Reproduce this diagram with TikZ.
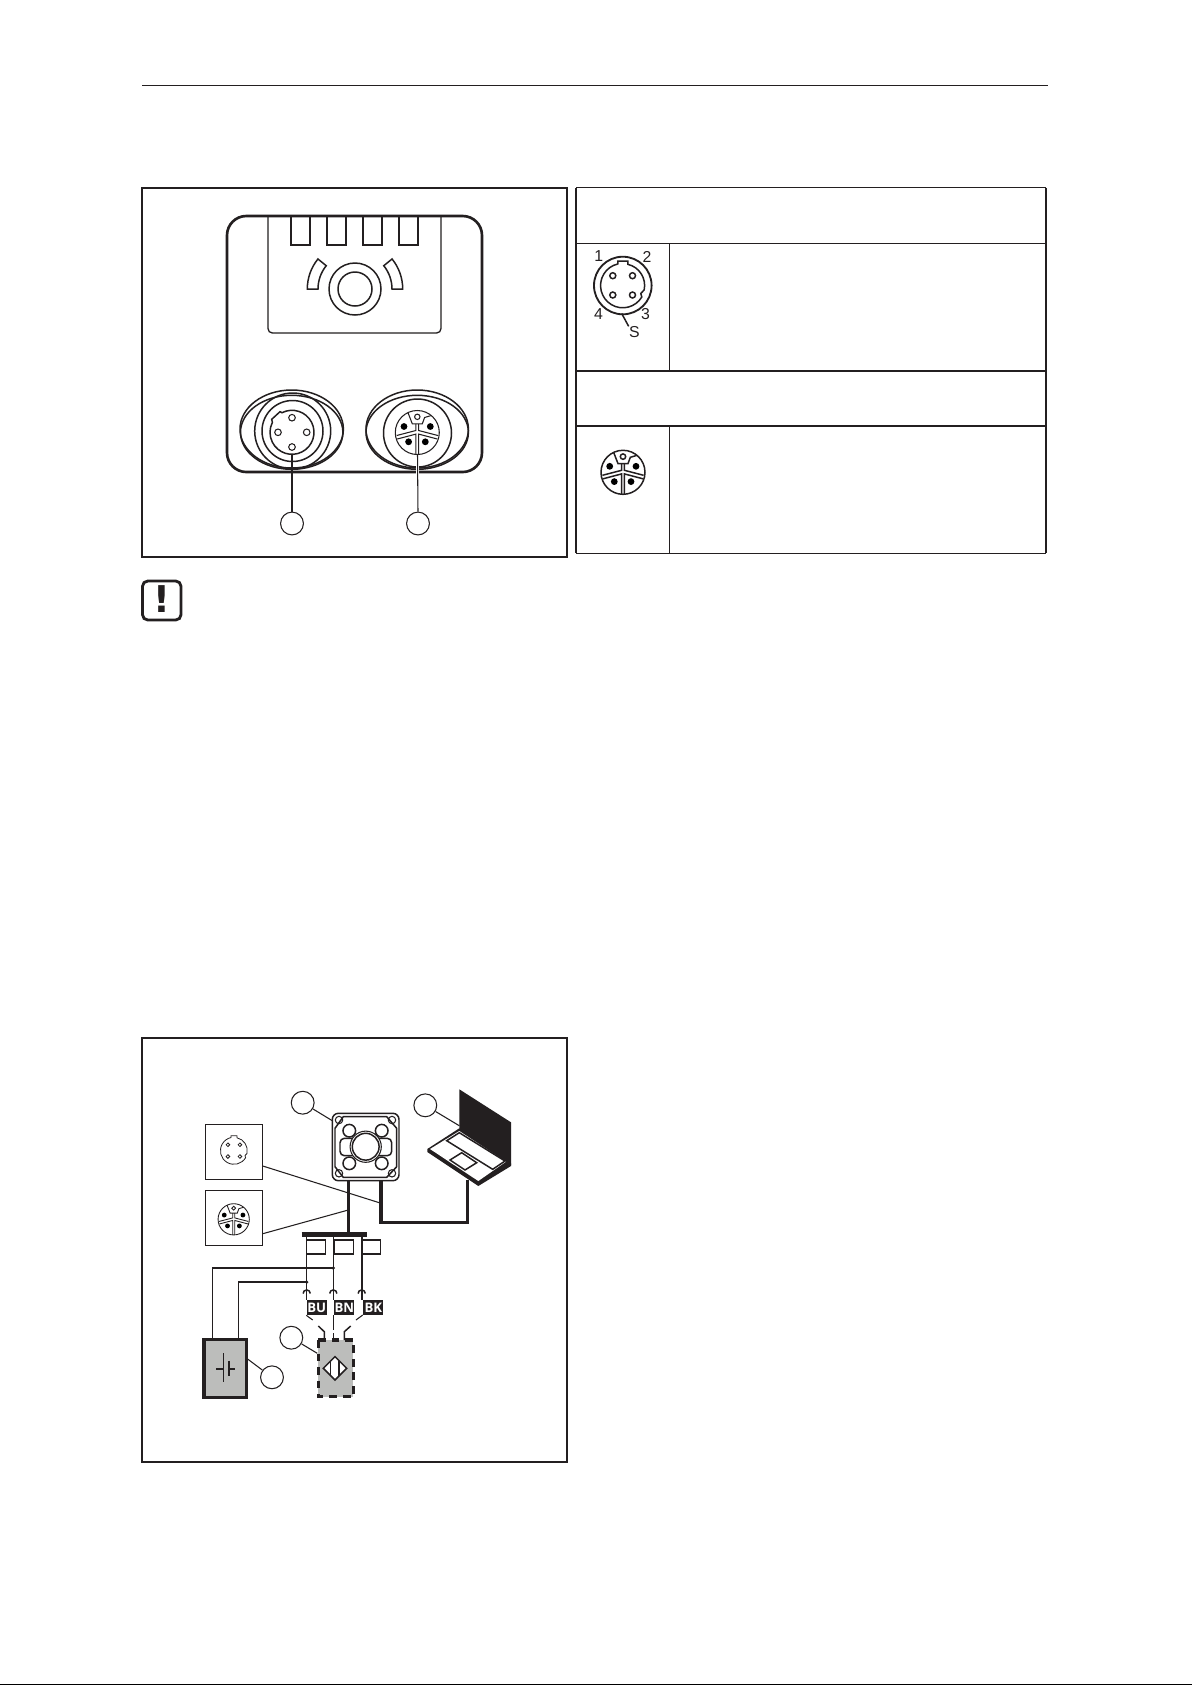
\documentclass[tikz,border=0pt]{standalone}
\usepackage{fontspec}
\setmainfont{Liberation Sans}
\newfontfamily\tagfont{Open Sans}
\newfontfamily\signfont{DejaVu Sans}
\usetikzlibrary{calc}
\definecolor{devgray}{HTML}{BCBDBB}
\definecolor{inkblack}{HTML}{231F20}
\tikzset{
    thinline/.style={line width=.6pt},
    medline/.style={line width=.85pt},
    heavyline/.style={line width=1.25pt},
    cableline/.style={line width=1.75pt},
    callout/.style={circle, draw=inkblack, thinline, minimum size=13pt, inner sep=0pt},
    wiretag/.style={fill=inkblack, text=white, font=\tagfont\bfseries\fontsize{7.5}{7.5}\selectfont, minimum width=11.4pt, minimum height=8.5pt, inner sep=0pt},
    insetbox/.style={draw=inkblack, thinline, minimum width=32.4pt, minimum height=31.3pt, inner sep=0pt},
    pinlabel/.style={font=\fontsize{9}{9}\selectfont, text=inkblack, inner sep=0pt},
    % four pole socket, notch on top
    pinfour/.pic={
        \draw (5,-21.2) arc (283:372:21.7) -- (18,8) -- (19,11.5)
            arc (391:617:22.2) -- (-5,-24.5) -- (5,-24.5) -- cycle;
        \foreach \px/\py in {-10/-9.8, 9.7/-9.8, -10/9.5, 9.7/9.5}
            \draw (\px,\py) circle (3);
    },
    % five pole socket with coding key
    pinfive/.pic={
        \draw (0,0) circle (22);
        \draw (-9.3,-19.8) -- (-5,-8.7) -- (5,-8.7) -- (7.3,-15) -- (14,-17);
        \draw (0,-15.7) circle (2.7);
        \foreach \px/\py in {-13.3/-6, 13/-6, -8.7/9.3, 8/9.3}
            \fill (\px,\py) circle (3.4);
        \draw (-1.4,-8.7) -- (-1.4,-2) -- (-20.6,3);
        \draw (1.4,-8.7) -- (1.4,-2) -- (20.6,3);
        \draw (-20,6.5) -- (-1.4,1.6) -- (-1.4,21.8);
        \draw (20,6.5) -- (1.4,1.6) -- (1.4,21.8);
    },
}

\begin{document}
\begin{tikzpicture}[x=0.02cm, y=-0.02cm, draw=inkblack]
    \useasboundingbox (0,0) rectangle (1192,1685);
    \fill[white] (0,0) rectangle (1192,1685);

    % Page rules
    \draw[medline] (142,85.5) -- (1048,85.5);
    \draw[black, medline] (0,1684.3) -- (1192,1684.3);

    % Upper frame
    \draw[heavyline] (142,188) rectangle (567,557);

    % Device housing
    \draw[line width=1.5pt, rounded corners=11pt] (227,216) rectangle (482,472);
    \draw[line width=.75pt, rounded corners=2.5pt] (268,217) -- (268,333) -- (441,333) -- (441,217);
    \foreach \tabx in {291,327,363,399}
        \draw[medline] (\tabx,217) -- (\tabx,245) -- (\tabx+19,245) -- (\tabx+19,217);
    \draw[medline] (355,289) circle (26);
    \draw[medline] (355,289) circle (17);
    \draw[medline] (355,289) ++(180:47.7) arc (180:219:47.7) -- ++(39:10.7) arc (219:180:37) -- cycle;
    \draw[medline] (355,289) ++(0:47.7) arc (360:321:47.7) -- ++(141:10.7) arc (321:360:37) -- cycle;

    % Left connector
    \draw[medline] (291.7,429) ellipse (51.7 and 39);
    \draw[medline] (291.7,432.3) ellipse (51.2 and 37);
    \draw[medline] (292.7,431) circle (38);
    \draw[medline] (292.5,431) circle (30.5);
    \draw[medline] (292,432.3) ++(243:22) arc (243:567:22) -- (271.7,419.3) -- (280,411.7) -- cycle;
    \foreach \px/\py in {292/417.7, 278/432.3, 306.7/432.3, 292/447}
        \draw[thinline] (\px,\py) circle (3.3);

    % Right connector
    \draw[medline] (417.2,429) ellipse (51.2 and 39);
    \draw[medline] (417.2,432.3) ellipse (51.2 and 37);
    \draw[medline] (417.5,433) circle (34);
    \pic[thinline] at (417.3,432.5) {pinfive};

    % Connector callouts
    \node[callout] (callA) at (292,523.5) {};
    \node[callout] (callB) at (418,523.5) {};
    \coordinate (leadA) at (292,454.5);
    \coordinate (leadB) at (417.5,454.5);
    \draw[heavyline] (callA) -- (leadA);
    \draw[white, line width=1.7pt] (417.5,460) -- (417.5,480);
    \draw[thinline] (callB.north) -- (leadB);

    % Pin table
    \draw[medline] (576,187.7) -- (1046,187.7);
    \draw[thinline] (576,243.3) -- (1046,243.3);
    \draw[medline] (576,371) -- (1046,371);
    \draw[medline] (576,426) -- (1046,426);
    \draw[thinline] (576,553.3) -- (1046,553.3);
    \draw[thinline] (576,187.7) -- (576,553.3);
    \draw[heavyline] (1046,187.7) -- (1046,553.3);
    \draw[thinline] (669.3,243.3) -- (669.3,371);
    \draw[thinline] (669.3,426) -- (669.3,553.3);

    % Table symbols
    \draw[line width=1.05pt] (622.8,285.5) circle (28.8);
    \pic[medline] at (622.8,285.5) {pinfour};
    \node[pinlabel] (lblA) at (598.7,256.5) {1};
    \node[pinlabel] (lblB) at (647,256.5) {2};
    \node[pinlabel] (lblC) at (645.5,314.5) {3};
    \node[pinlabel] (lblD) at (598.5,314.5) {4};
    \node[pinlabel] (lblS) at (634.3,332.3) {S};
    \draw[medline] (621.7,313.5) -- (lblS.north west);
    \pic[medline] at (623,472.3) {pinfive};

    % Warning sign
    \draw[line width=1.6pt, rounded corners=3pt] (142.5,581) rectangle (181,620);
    \node[font=\signfont\bfseries\fontsize{21}{21}\selectfont, inner sep=0pt, text=inkblack] (warn) at (161.5,599.5) {!};

    % Lower frame
    \draw[medline] (142,1038) rectangle (567,1462);

    % Sensor unit
    \draw[medline, rounded corners=3.5pt] (332.3,1113.3) rectangle (399,1180.7);
    \draw[medline] (343.3,1116.7) -- (386.7,1116.7) -- (396.7,1128.3) -- (396.7,1166.7) -- (386.7,1177.3)
        -- (343.3,1177.3) -- (335,1166.7) -- (335,1128.3) -- cycle;
    \foreach \px/\py in {339/1120, 392/1120, 339/1173.3, 392/1173.3}
        \draw[thinline] (\px,\py) circle (3.7);
    \foreach \px/\py in {349.3/1130.7, 381.7/1130.7, 349.3/1163.3, 381.7/1163.3}
        \draw[medline] (\px,\py) circle (6.3);
    \draw[medline, rounded corners=2.5pt, fill=white] (340,1138.3) rectangle (391.7,1155.7);
    \draw[thinline, fill=white] (365.7,1146.7) circle (15.6);
    \draw[medline] (365.7,1146.7) circle (13.4);

    % Laptop
    \fill[inkblack] (459.3,1089.3) -- (511,1122.3) -- (511,1165) -- (459.3,1130) -- cycle;
    \fill[inkblack] (427.3,1149) -- (459.3,1128.3) -- (511,1163.3) -- (511,1166) -- (478.3,1186) -- (427.3,1152) -- cycle;
    \fill[white] (430,1149) -- (459.3,1131) -- (506,1161.7) -- (478.3,1181) -- cycle;
    \draw[medline] (446.7,1140.7) -- (459.3,1132.7) -- (505,1161) -- (492.7,1169.3) -- cycle;
    \draw[medline] (450,1160) -- (461.7,1152.7) -- (476.7,1162.7) -- (465,1170) -- cycle;

    % Cables
    \draw[cableline] (348.3,1180.7) -- (348.3,1234.3);
    \draw[cableline] (381,1180.7) -- (381,1222.3) -- (467.3,1222.3) -- (467.3,1180);
    \draw[line width=2.8pt] (301.7,1234.3) -- (366.7,1234.3);

    % Coupler tabs
    \draw[medline] (306.7,1240) -- (325.7,1240) -- (325.7,1254) -- (306.7,1254);
    \draw[medline] (334,1240) -- (353.3,1240) -- (353.3,1254) -- (334,1254) -- cycle;
    \draw[thinline] (362.3,1240) -- (380.7,1240) -- (380.7,1254) -- (362.3,1254);

    % Wires
    \foreach \wx/\wl in {306.7/medline, 333.3/medline, 361.7/heavyline}{
        \draw[\wl] (\wx,1234.3) -- (\wx,1290);
        \draw[medline] (\wx-3.6,1293.5) arc (180:360:3.6);
        \draw[\wl] (\wx,1290) -- (\wx,1300);
    }

    % Wire tags
    \node[wiretag] (tagBU) at (316.7,1307.5) {BU};
    \node[wiretag] (tagBN) at (344.3,1307.5) {BN};
    \node[wiretag] (tagBK) at (373.3,1307.5) {BK};

    % Supply
    \node[draw=inkblack, line width=1.8pt, fill=devgray, minimum width=24.3pt, minimum height=33pt, inner sep=0pt] (supply) at (225.3,1368.3) {};
    \draw[medline] (212.7,1339) -- (212.7,1268) -- (333.3,1268);
    \draw[thinline] (238.3,1339) -- (238.3,1282) -- (306.7,1282);
    \fill[inkblack] (333.3,1268) circle (1.8);
    \fill[inkblack] (306.7,1282) circle (1.8);
    \draw[thinline] (216,1369) -- (223.3,1369);
    \draw[thinline] (223.3,1353.3) -- (223.3,1382.3);
    \draw[line width=1.1pt] (228.7,1360.7) -- (228.7,1376);
    \draw[thinline] (228.7,1369) -- (235,1369);

    % Sensor
    \fill[devgray] (318.3,1340) rectangle (353.3,1396.7);
    \draw[line width=1.9pt, dash pattern=on 4.4pt off 3.3pt] (318.3,1340) rectangle (353.3,1396.7);
    \coordinate (sensorEdge) at (317.3,1353.3);
    \draw[medline, fill=white] (335,1356.6) -- (346.7,1368.3) -- (335,1380) -- (323.3,1368.3) -- cycle;
    \draw[medline] (330.5,1361.5) -- (330.5,1375);
    \draw[medline] (338.8,1360.5) -- (338.8,1376);

    % Sensor leads
    \draw[thinline] (tagBU.south west) -- (312.7,1320);
    \draw[medline] (318.3,1326) -- (324.3,1331.7) -- (324.3,1340);
    \draw[thinline] (333.3,1315) -- (333.3,1330);
    \draw[medline] (333.3,1333) -- (333.3,1340);
    \draw[thinline] (362.7,1315) -- (356,1320);
    \draw[medline] (350.7,1326) -- (344.3,1331.7) -- (344.3,1340);

    % Inset symbols
    \node[insetbox] (insetA) at (233.8,1151.8) {};
    \node[insetbox] (insetB) at (233.8,1217.8) {};
    \pic[scale=.61, line width=.45pt] at (234,1150.7) {pinfour};
    \pic[scale=.71, line width=.5pt] at (233.7,1219.3) {pinfive};
    \coordinate (cableA) at (379.3,1202.7);
    \coordinate (cableB) at (348.3,1210);
    \draw[thinline] (insetA.east |- 0,1166) -- (cableA);
    \draw[thinline] (insetB.east |- 0,1233.7) -- (cableB);

    % Lower callouts
    \node[callout] (callDev) at (302.7,1102.7) {};
    \node[callout] (callPc) at (425.3,1105.3) {};
    \node[callout] (callSen) at (291.3,1337.7) {};
    \node[callout] (callBat) at (272,1377.3) {};
    \coordinate (devEdge) at (332.3,1120.7);
    \coordinate (pcEdge) at (459.3,1125.7);
    \coordinate (batEdge) at (246.7,1358.3);
    \draw[thinline] (callDev) -- (devEdge);
    \draw[thinline] (callPc) -- (pcEdge);
    \draw[thinline] (callSen) -- (sensorEdge);
    \draw[thinline] (callBat) -- (batEdge);
\end{tikzpicture}
\end{document}
